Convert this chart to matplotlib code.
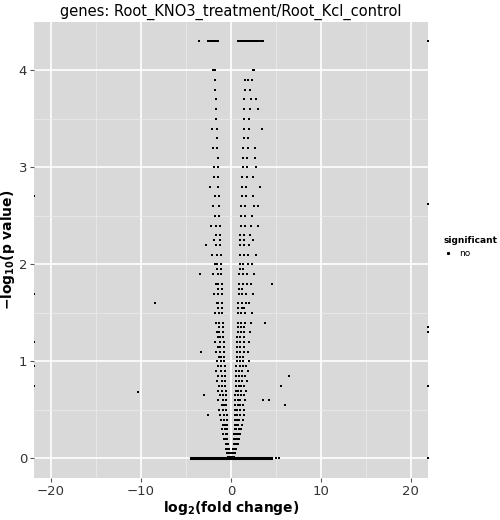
import matplotlib
matplotlib.use("Agg")
import matplotlib.pyplot as plt
from matplotlib.lines import Line2D

# baseline row (p value = 1 -> y = 0)
base_x = [-4.4,-4.2,-4.0,-3.8,-3.6,-3.4,-3.2,-3.0,-2.8,-2.6,-2.4,-2.2,-2.0,-1.8,-1.6,-1.4,-1.2,-1.0,-0.8,-0.6,-0.4,-0.2,
          0.0,0.2,0.4,0.6,0.8,1.0,1.2,1.4,1.6,1.8,2.0,2.2,2.4,2.6,2.8,3.0,3.2,3.4,3.6,3.8,4.0,4.2,4.4]
base_y = [0.0]*len(base_x)
base_extra_x = [5.0, 5.3, 21.9]
base_extra_y = [0.0, 0.0, 0.0]

# saturated row at the top
top_x = [-3.6,-2.6,-2.3,-2.1,-1.9,-1.7,-1.5,0.8,1.0,1.2,1.4,1.6,1.8,2.0,2.2,2.4,2.6,2.8,3.0,3.3,3.6,21.9]
top_y = [4.3]*len(top_x)

# dense V-shaped core (left and right arms), per level: y, list of x
core_levels = [
 (0.02,[-0.3,-0.2,-0.1,0.1,0.2,0.3]), (0.06,[-0.45,-0.3,-0.15,0.15,0.3,0.45]),
 (0.10,[-0.55,-0.4,-0.25,0.25,0.4,0.55]), (0.15,[-0.6,-0.45,-0.3,0.3,0.45,0.6,0.8]),
 (0.20,[-0.8,-0.6,-0.4,0.35,0.55,0.7,0.9]), (0.25,[-0.85,-0.6,-0.4,0.35,0.55,0.8,1.0]),
 (0.30,[-1.0,-0.7,-0.45,0.4,0.6,0.85,1.1]), (0.35,[-0.9,-0.7,-0.45,0.4,0.6,0.8,1.2]),
 (0.40,[-1.1,-0.75,-0.5,0.4,0.65,0.9,1.3]), (0.45,[-1.2,-0.8,-0.5,0.45,0.7,0.95,1.4]),
 (0.50,[-1.3,-0.85,-0.55,0.45,0.7,1.0,1.5]), (0.55,[-1.0,-0.8,-0.55,0.5,0.75,1.0,1.3]),
 (0.60,[-1.4,-0.9,-0.6,0.5,0.75,1.05,1.6]), (0.65,[-1.2,-0.9,-0.6,0.5,0.8,1.1,1.4]),
 (0.70,[-1.5,-0.95,-0.6,0.55,0.8,1.1,1.7]), (0.75,[-1.3,-1.0,-0.65,0.55,0.85,1.15,1.5]),
 (0.80,[-1.6,-1.0,-0.65,0.55,0.85,1.2,1.8]), (0.85,[-1.4,-1.05,-0.7,0.6,0.9,1.2,1.6]),
 (0.90,[-1.7,-1.1,-0.7,0.6,0.9,1.25,1.9]), (0.95,[-1.5,-1.1,-0.7,0.6,0.95,1.3,1.7]),
 (1.00,[-1.6,-1.15,-0.75,0.65,0.95,1.3,2.0]), (1.05,[-1.3,-1.1,-0.75,0.65,1.0,1.35]),
 (1.10,[-1.7,-1.2,-0.8,0.65,1.0,1.4,1.9]), (1.15,[-1.4,-1.2,-0.8,0.7,1.0,1.4]),
 (1.20,[-1.8,-1.25,-0.8,0.7,1.05,1.45,2.0]), (1.25,[-1.5,-1.2,-0.85,0.7,1.05,1.5]),
 (1.30,[-1.6,-1.3,-0.85,0.75,1.1,1.5,2.1]), (1.35,[-1.3,-0.9,0.75,1.1,1.4]),
 (1.40,[-1.7,-1.3,-0.9,0.75,1.1,1.55,2.2]), (1.50,[-1.8,-1.35,-0.95,0.8,1.15,1.6,2.3]),
 (1.55,[-1.4,-0.95,0.8,1.2,1.5]), (1.60,[-1.6,-1.4,-1.0,0.8,1.2,1.65,2.0]),
 (1.70,[-1.9,-1.45,-1.0,0.85,1.25,1.7,2.4]), (1.75,[-1.5,-1.05,0.85,1.25]),
 (1.80,[-1.7,-1.5,-1.05,0.9,1.3,1.75,2.2]), (1.90,[-2.0,-1.5,-1.1,0.9,1.3,1.8,2.6]),
 (1.95,[-1.55,-1.1,0.95,1.35]), (2.00,[-1.8,-1.6,-1.15,0.95,1.35,1.85,2.3]),
 (2.10,[-2.1,-1.6,-1.15,1.0,1.4,1.9,2.8]), (2.20,[-1.65,-1.2,1.0,1.45,2.0]),
 (2.25,[-1.9,-1.2,1.05,1.5,2.5]), (2.30,[-1.7,-1.25,1.05,1.5,2.1]),
 (2.40,[-2.2,-1.7,-1.25,1.1,1.55,2.2,3.0]), (2.50,[-1.75,-1.3,1.1,1.6,2.3]),
 (2.60,[-2.0,-1.3,1.15,1.6,2.6]), (2.70,[-1.8,-1.35,1.2,1.65,2.4]),
 (2.80,[-2.3,-1.4,1.2,1.7,3.2]), (2.90,[-1.85,-1.4,1.25,1.75,2.5]),
 (3.00,[-1.5,-1.9,1.3,1.8,2.8]), (3.10,[-1.5,1.3,1.8]), (3.20,[-2.0,-1.55,1.35,1.9,2.7]),
 (3.30,[-1.6,1.4,1.9]), (3.40,[-2.1,-1.6,1.4,2.0,3.4]), (3.50,[-1.65,1.45,2.0]),
 (3.60,[-1.7,1.5,2.1,3.0]), (3.70,[-1.7,1.5,2.2,2.8]), (3.80,[-1.8,1.6,2.1]),
 (3.90,[-1.8,1.6,1.9,2.3]), (4.00,[-2.0,-1.8,2.5,2.6]),
]

# scattered outliers
out_x = [-8.5,-10.3,-21.9,-21.9,-21.9,-21.9,-21.9,21.9,21.9,21.9,21.9,-3.0,-2.6,-3.3,3.6,4.2,5.6,6.5,6.0,3.0,2.7,4.6,-3.5,-2.8,3.8]
out_y = [1.6,0.68,2.7,1.7,1.2,0.95,0.75,2.62,1.35,1.3,0.75,0.65,0.45,1.1,0.6,0.6,0.75,0.85,0.55,2.6,3.1,1.8,1.9,2.2,1.4]

core_x = [x for y, xs in core_levels for x in xs]
core_y = [y for y, xs in core_levels for x in xs]

fig = plt.figure(figsize=(5, 5.2), dpi=100)
ax = fig.add_axes([0.068, 0.081, 0.788, 0.877])
ax.set_facecolor("#D9D9D9")
ax.set_xlim(-21.9, 21.9)
ax.set_ylim(-0.2, 4.5)
ax.set_xticks([-20, -10, 0, 10, 20])
ax.set_xticks([-15, -5, 5, 15], minor=True)
ax.set_yticks([0, 1, 2, 3, 4])
ax.set_yticks([0.5, 1.5, 2.5, 3.5], minor=True)
ax.grid(which="major", color="white", lw=1.2)
ax.grid(which="minor", color="#EDEDED", lw=0.5)
ax.set_axisbelow(True)
for s in ax.spines.values():
    s.set_visible(False)
ax.tick_params(which="major", length=3, color="#555555", labelsize=9.5, labelcolor="#333333", pad=2)
ax.tick_params(which="minor", length=0)

ms = 1.5
ax.plot(base_x, base_y, '-', color='black', lw=2.2)
ax.plot(base_extra_x, base_extra_y, 's', color='black', ms=ms, mew=0)
ax.plot(top_x, top_y, 's', color='black', ms=ms, mew=0)
ax.plot(top_x[1:7], top_y[1:7], '-', color='black', lw=1.3)
ax.plot(top_x[7:21], top_y[7:21], '-', color='black', lw=1.3)
ax.plot(core_x, core_y, 's', color='black', ms=ms, mew=0)
ax.plot(out_x, out_y, 's', color='black', ms=ms, mew=0)

ax.set_xlabel(r"$\mathbf{log_2(fold\ change)}$", fontsize=10, labelpad=1)
ax.set_ylabel(r"$\mathbf{-log_{10}(p\ value)}$", fontsize=10, labelpad=1)
ax.set_title("genes: Root_KNO3_treatment/Root_Kcl_control", fontsize=10.5, pad=4)

h = Line2D([], [], marker='s', ls='', color='black', ms=1.2)
leg = fig.legend([h], ['no'], title='significant', loc='center left',
                 bbox_to_anchor=(0.87, 0.525), frameon=False, fontsize=6.5,
                 title_fontproperties={'weight': 'bold', 'size': 6.5}, handlelength=1)
leg._legend_box.align = "left"
fig.savefig("out.png")
